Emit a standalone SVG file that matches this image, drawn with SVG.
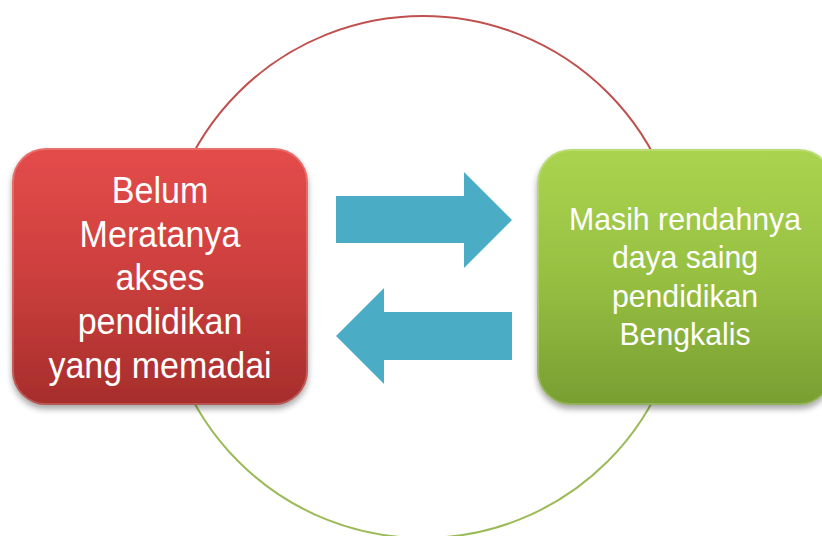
<svg xmlns="http://www.w3.org/2000/svg" width="822" height="536" viewBox="0 0 822 536">
<defs>
<linearGradient id="gRed" x1="0" y1="0" x2="0" y2="1">
<stop offset="0" stop-color="#E44C4A"/>
<stop offset="0.5" stop-color="#CC3F3D"/>
<stop offset="1" stop-color="#A62D2C"/>
</linearGradient>
<linearGradient id="gGreen" x1="0" y1="0" x2="0" y2="1">
<stop offset="0" stop-color="#AAD450"/>
<stop offset="0.5" stop-color="#97C042"/>
<stop offset="1" stop-color="#789E32"/>
</linearGradient>
<filter id="sh" x="-10%" y="-10%" width="120%" height="125%">
<feGaussianBlur in="SourceAlpha" stdDeviation="3"/>
<feOffset dy="4" result="b"/>
<feComponentTransfer><feFuncA type="linear" slope="0.35"/></feComponentTransfer>
<feMerge><feMergeNode/><feMergeNode in="SourceGraphic"/></feMerge>
</filter>
<style>
.arcR{fill:none;stroke:#C0504D;stroke-width:2}
.arcG{fill:none;stroke:#9BBB59;stroke-width:2}
.arrow{fill:#4BACC6}
.lbl{font-family:"Liberation Sans",Arial,sans-serif;fill:#FFFFFF;text-anchor:middle}
.bevel{fill:none;stroke:#FFFFFF;stroke-opacity:0.2;stroke-width:2}
</style>
</defs>
<rect width="822" height="536" fill="#FFFFFF"/>
<g id="connectors">
<path class="arcR" d="M 162 277 A 261 261 0 0 1 684 277"/>
<path class="arcG" d="M 162 277 A 261 261 0 0 0 684 277"/>
<polygon class="arrow" points="336,196 464,196 464,172 512,220 464,268 464,243 336,243"/>
<polygon class="arrow" points="512,312 384,312 384,288 336,336 384,384 384,360 512,360"/>
</g>
<g id="node-left">
<rect x="12" y="148" width="296" height="257" rx="34" fill="url(#gRed)" filter="url(#sh)"/>
<rect x="13" y="149" width="294" height="255" rx="33" class="bevel"/>
<text class="lbl" font-size="37" transform="translate(160 0) scale(0.92 1)"><tspan x="0" y="203">Belum</tspan><tspan x="0" y="247">Meratanya</tspan><tspan x="0" y="290">akses</tspan><tspan x="0" y="334">pendidikan</tspan><tspan x="0" y="378">yang memadai</tspan></text>
</g>
<g id="node-right">
<rect x="537" y="149" width="296" height="256" rx="34" fill="url(#gGreen)" filter="url(#sh)"/>
<rect x="538" y="150" width="294" height="254" rx="33" class="bevel"/>
<text class="lbl" font-size="32" transform="translate(685 0) scale(0.945 1)"><tspan x="0" y="230">Masih rendahnya</tspan><tspan x="0" y="268">daya saing</tspan><tspan x="0" y="307">pendidikan</tspan><tspan x="0" y="345">Bengkalis</tspan></text>
</g>
</svg>
